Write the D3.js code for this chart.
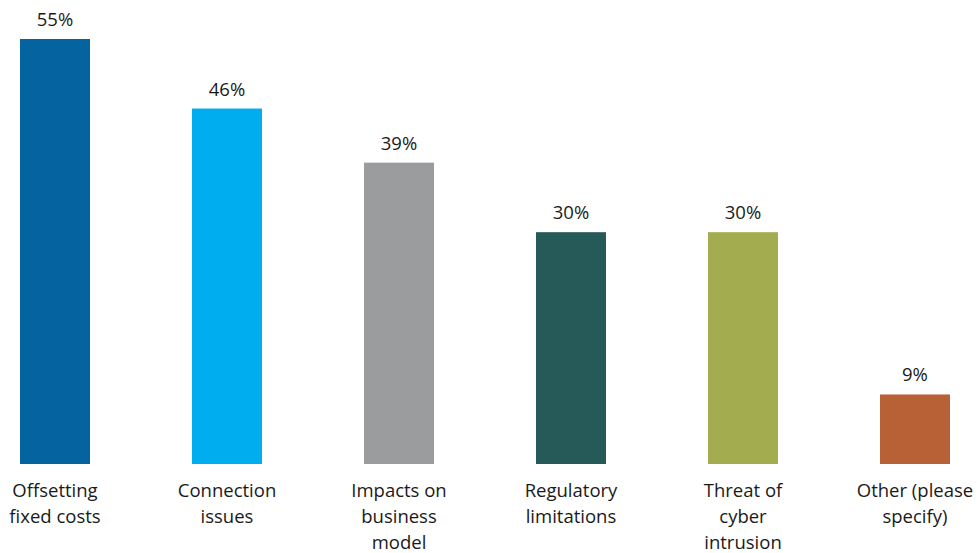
<!DOCTYPE html>
<html>
<head>
<meta charset="utf-8">
<script src="https://cdn.jsdelivr.net/npm/d3@7"></script>
<style>
  body { margin: 0; background: #fff; }
  text { font-family: "Open Sans", "Noto Sans", sans-serif; fill: #1a1a1a; }
</style>
</head>
<body>
<div id="chart"></div>
<script>
const width = 977
const height = 553
const baseline = 464

const categories = [
	["Offsetting", "fixed costs"],
	["Connection", "issues"],
	["Impacts on", "business", "model"],
	["Regulatory", "limitations"],
	["Threat of", "cyber", "intrusion"],
	["Other (please", "specify)"]
]
const values = [55, 46, 39, 30, 30, 9]
const colours = ["#05639f", "#00aeef", "#9b9c9e", "#255a58", "#a3ac4f", "#b86137"]

const idx = d3.range(values.length)

const svg = d3.select("#chart")
	.append("svg")
	.attr("width", width)
	.attr("height", height)

const x = d3.scaleBand()
	.domain(idx)
	.range([20, 950])
	.paddingInner(0.593)
	.paddingOuter(0)

const y = d3.scaleLinear()
	.domain([0, 55])
	.range([baseline, 39])

svg.selectAll(".bar")
	.data(idx)
	.enter().append("rect")
	.attr("class", "bar")
	.attr("x", i => x(i))
	.attr("y", i => y(values[i]))
	.attr("width", x.bandwidth())
	.attr("height", i => baseline - y(values[i]))
	.style("fill", i => colours[i])

svg.selectAll(".vlabel")
	.data(idx)
	.enter().append("text")
	.attr("class", "vlabel")
	.attr("x", i => x(i) + x.bandwidth()/2)
	.attr("y", i => y(values[i]) - 13)
	.attr("text-anchor", "middle")
	.attr("font-size", "18.5px")
	.text(i => values[i] + "%")

// category labels, one tspan per line
const cat = svg.selectAll(".clabel")
	.data(idx)
	.enter().append("text")
	.attr("class", "clabel")
	.attr("text-anchor", "middle")
	.attr("font-size", "18.5px")

cat.selectAll("tspan")
	.data(i => categories[i].map((line, k) => ({i, line, k})))
	.enter().append("tspan")
	.attr("x", d => x(d.i) + x.bandwidth()/2)
	.attr("y", d => 497 + d.k*26)
	.text(d => d.line)
</script>
</body>
</html>
